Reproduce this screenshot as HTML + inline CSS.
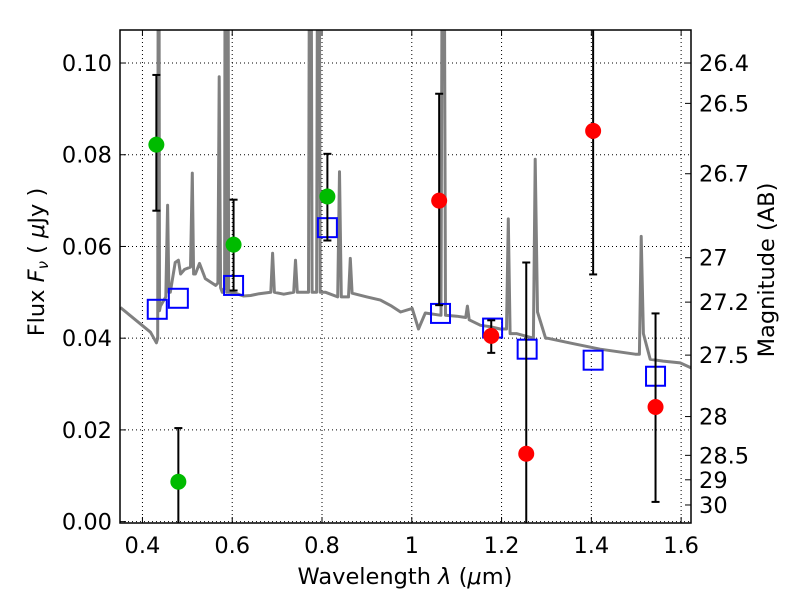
<!DOCTYPE html>
<html><head><meta charset="utf-8"><style>
body{margin:0;background:#fff}
svg{display:block;font-family:"DejaVu Sans","Liberation Sans",sans-serif}
</style></head><body>
<svg id="c" width="800" height="600"></svg>
<script>
const xTicks=[0.4,0.6,0.8,1.0,1.2,1.4,1.6];
const xTickLabels=["0.4","0.6","0.8","1","1.2","1.4","1.6"];
const yTicks=[0,0.02,0.04,0.06,0.08,0.10];
const yTickLabels=["0.00","0.02","0.04","0.06","0.08","0.10"];
const magTicks=[26.4,26.5,26.7,27,27.2,27.5,28,28.5,29,30];
const magTickLabels=["26.4","26.5","26.7","27","27.2","27.5","28","28.5","29","30"];
const specLam=[0.351,0.418,0.431,0.434,0.436,0.438,0.440,0.452,0.456,0.459,0.462,0.473,0.480,0.485,0.494,0.507,0.511,0.514,0.518,0.527,0.540,0.563,0.568,0.571,0.574,0.578,0.583,0.585,0.588,0.590,0.592,0.595,0.607,0.625,0.641,0.660,0.686,0.690,0.694,0.715,0.737,0.741,0.745,0.770,0.774,0.778,0.788,0.792,0.796,0.808,0.835,0.839,0.843,0.859,0.863,0.867,0.900,0.930,0.955,0.975,1.001,1.015,1.030,1.065,1.070,1.075,1.100,1.120,1.124,1.128,1.153,1.175,1.197,1.211,1.215,1.219,1.233,1.271,1.275,1.280,1.298,1.302,1.360,1.420,1.498,1.507,1.511,1.516,1.531,1.560,1.598,1.623];
const specFlux=[0.0467,0.0413,0.0390,0.040,0.200,0.046,0.047,0.049,0.069,0.050,0.050,0.0565,0.057,0.054,0.055,0.0555,0.076,0.054,0.054,0.0563,0.053,0.0515,0.052,0.097,0.051,0.050,0.051,0.200,0.050,0.200,0.050,0.050,0.0498,0.0492,0.0493,0.0497,0.050,0.0585,0.050,0.0496,0.050,0.057,0.050,0.050,0.200,0.050,0.050,0.200,0.050,0.050,0.049,0.0763,0.049,0.049,0.0574,0.0498,0.0490,0.0483,0.0470,0.0457,0.0465,0.042,0.0455,0.045,0.200,0.045,0.0448,0.0445,0.047,0.044,0.0428,0.0425,0.042,0.042,0.066,0.041,0.041,0.040,0.079,0.0457,0.040,0.040,0.0388,0.0376,0.0365,0.0365,0.0622,0.041,0.0354,0.0350,0.0346,0.0335];
const greenLam=[0.431,0.480,0.603,0.812];
const greenFlux=[0.0822,0.0087,0.0604,0.0709];
const greenLo=[0.0678,-0.01,0.0504,0.0613];
const greenHi=[0.0974,0.0204,0.0702,0.0802];
const redLam=[1.061,1.177,1.255,1.404,1.543];
const redFlux=[0.070,0.0405,0.0148,0.0852,0.025];
const redLo=[0.0472,0.0368,-0.01,0.0539,0.0043];
const redHi=[0.0933,0.0439,0.0565,0.12,0.0454];
const modelLam=[0.433,0.480,0.603,0.812,1.064,1.180,1.257,1.404,1.543];
const modelFlux=[0.0463,0.0487,0.0515,0.0641,0.0454,0.0422,0.0376,0.0352,0.0317];

const L=120,R=691,T=30,B=523,XMIN=0.35,XMAX=1.622,YMIN=-0.0003,YMAX=0.1072;
const X=v=>L+(v-XMIN)/(XMAX-XMIN)*(R-L);
const Y=v=>B-(v-YMIN)/(YMAX-YMIN)*(B-T);
const svg=document.getElementById('c');
const NS='http://www.w3.org/2000/svg';
function mk(tag,attrs,parent){const e=document.createElementNS(NS,tag);for(const k in attrs)e.setAttribute(k,attrs[k]);(parent||svg).appendChild(e);return e;}
const defs=mk('defs',{});const cp=mk('clipPath',{id:'clip'},defs);mk('rect',{x:L,y:T,width:R-L,height:B-T},cp);
const grid=mk('g',{stroke:'#000','stroke-width':1,'stroke-dasharray':'1,3'});


xTicks.forEach(t=>{mk('line',{x1:X(t),x2:X(t),y1:T,y2:B},grid);});
yTicks.forEach(t=>{mk('line',{x1:L,x2:R,y1:Y(t),y2:Y(t)},grid);});
const plot=mk('g',{'clip-path':'url(#clip)'});
let d='';specLam.forEach((l,i)=>{d+=(i?'L':'M')+X(l).toFixed(1)+','+Y(specFlux[i]).toFixed(1);});
const sp=mk('path',{d:d,fill:'none',stroke:'#808080','stroke-width':3,'stroke-linejoin':'round'},plot);


function errbar(lam,lo,hi){const g=mk('g',{stroke:'#000','stroke-width':2},plot);
 
 
 const x=X(lam);mk('line',{x1:x,x2:x,y1:Y(lo),y2:Y(hi)},g);
 mk('line',{x1:x-4,x2:x+4,y1:Y(lo),y2:Y(lo)},g);mk('line',{x1:x-4,x2:x+4,y1:Y(hi),y2:Y(hi)},g);}
modelLam.forEach((l,i)=>{const r=mk('rect',{x:X(l)-9.5,y:Y(modelFlux[i])-9.5,width:19,height:19,fill:'none',stroke:'#0000ff','stroke-width':2},plot);
 
 });
greenLam.forEach((l,i)=>{errbar(l,greenLo[i],greenHi[i]);const c=mk('circle',{cx:X(l),cy:Y(greenFlux[i]),r:8,fill:'#00bb00'},plot);
 
 });
redLam.forEach((l,i)=>{errbar(l,redLo[i],redHi[i]);const c=mk('circle',{cx:X(l),cy:Y(redFlux[i]),r:8,fill:'#ff0000'},plot);
 
 });
const frame=mk('rect',{x:L,y:T,width:R-L,height:B-T,fill:'none',stroke:'#000','stroke-width':1.5});


const tk=mk('g',{stroke:'#000','stroke-width':1});
xTicks.forEach((t,i)=>{mk('line',{x1:X(t),x2:X(t),y1:B,y2:B-6},tk);mk('line',{x1:X(t),x2:X(t),y1:T,y2:T+6},tk);
 const tx=mk('text',{x:X(t),y:B+30,'text-anchor':'middle','font-size':22.5,stroke:'none',fill:'#000'});tx.textContent=xTickLabels[i];
 
 });
yTicks.forEach((t,i)=>{mk('line',{x1:L,x2:L+6,y1:Y(t),y2:Y(t)},tk);
 const tx=mk('text',{x:L-8,y:Y(t)+8,'text-anchor':'end','font-size':22.5,stroke:'none',fill:'#000'});tx.textContent=yTickLabels[i];
 
 });
magTicks.forEach((m,i)=>{const f=Math.pow(10,(23.9-m)/2.5);const y=Y(f);mk('line',{x1:R,x2:R-6,y1:y,y2:y},tk);
 const tx=mk('text',{x:R+8,y:y+8,'font-size':22.5,stroke:'none',fill:'#000'});tx.textContent=magTickLabels[i];
 
 });
const xl=mk('text',{x:405,y:584,'text-anchor':'middle','font-size':22.5});xl.innerHTML='Wavelength  <tspan font-style="italic">λ</tspan> (<tspan font-style="italic">μ</tspan>m)';


const yl=mk('text',{x:0,y:0,'text-anchor':'middle','font-size':22.5,transform:'translate(44,262) rotate(-90)'});yl.innerHTML='Flux  <tspan font-style="italic">F</tspan><tspan font-size="15" dy="4" font-style="italic">ν</tspan><tspan dy="-4">  ( <tspan font-style="italic">μ</tspan>Jy )</tspan>';


const yr=mk('text',{x:0,y:0,'text-anchor':'middle','font-size':22.5,transform:'translate(774,270) rotate(-90)'});yr.textContent='Magnitude (AB)';


</script>
</body></html>
